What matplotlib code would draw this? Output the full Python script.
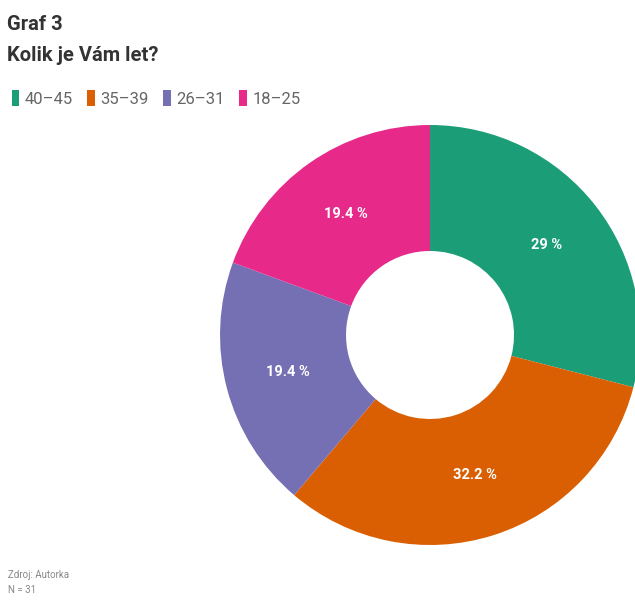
import matplotlib
matplotlib.use("Agg")
import matplotlib.pyplot as plt
from matplotlib.patches import Patch

# Data
age_groups = ['40–45', '35–39', '26–31', '18–25']
shares = [29, 32.2, 19.4, 19.4]
colors = ['#1b9e77', '#d95f02', '#7570b3', '#e7298a']

plt.rcParams['font.family'] = ['Roboto', 'DejaVu Sans']

fig = plt.figure(figsize=(6.35, 6.01), dpi=100)

# Title
fig.text(0.011, 0.975, 'Graf 3', fontsize=14.5, fontweight='bold', color='#333333', va='top')
fig.text(0.011, 0.923, 'Kolik je Vám let?', fontsize=14.5, fontweight='bold', color='#333333', va='top')

# Donut
ax = fig.add_axes([0.3465, 0.0932, 0.6614, 0.6988])
labels = [f'{v:g} %' for v in shares]
wedges, texts = ax.pie(shares, colors=colors, startangle=90, counterclock=False,
                       labels=labels, labeldistance=0.7, radius=1,
                       wedgeprops=dict(width=0.6, linewidth=0))
for t in texts:
    t.set_color('white')
    t.set_fontweight('bold')
    t.set_fontsize(10.5)
    t.set_ha('center')
    t.set_va('center')
ax.set_xlim(-1, 1)
ax.set_ylim(-1, 1)
ax.set_aspect('equal')
ax.axis('off')

# Legend
handles = [Patch(facecolor=c, edgecolor='none', label=g) for c, g in zip(colors, age_groups)]
leg = fig.legend(handles=handles, loc='center left', bbox_to_anchor=(0.0, 0.836), ncol=4,
                 frameon=False, handlelength=0.45, handleheight=1.1, handletextpad=0.35,
                 columnspacing=0.85, fontsize=12, borderaxespad=0.3)
for t in leg.get_texts():
    t.set_color('#666666')

# Footer
fig.text(0.013, 0.043, 'Zdroj: Autorka', fontsize=7, color='#888888', va='center')
fig.text(0.013, 0.018, 'N = 31', fontsize=7, color='#888888', va='center')

fig.savefig('out.png', dpi=100, facecolor='white')
